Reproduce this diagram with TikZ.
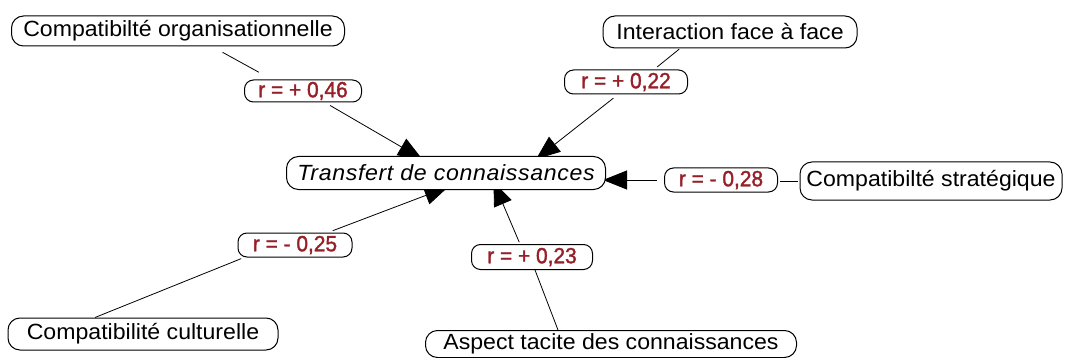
\documentclass[tikz,border=0pt]{standalone}
\usepackage{fontspec}
\setmainfont[FakeStretch=1.05]{Liberation Sans}
\newfontfamily\rfont[FakeStretch=0.95,FakeBold=1.5]{Liberation Sans}
\usepackage{tikz}
\usetikzlibrary{arrows.meta,backgrounds}
\definecolor{rdark}{RGB}{150,32,40}

\begin{document}
\begin{tikzpicture}[x=1pt,y=1pt,
    box/.style={draw, line width=1pt, fill=white, rounded corners=12pt, inner sep=0pt,
                font=\fontsize{22}{26}\selectfont},
    rbox/.style={draw, line width=1pt, fill=white, rounded corners=9pt, inner sep=0pt,
                font=\rfont\fontsize{22}{24}\selectfont, text=rdark},
    link/.style={line width=0.8pt},
    arr/.style={line width=0.8pt, -{Triangle[length=24pt,width=19pt]}}]

            \useasboundingbox (0,0) rectangle (1067,-358);

            % concepts
            \node[box, minimum width=333, minimum height=30] (orga) at (178,-31) {Compatibilté organisationnelle};
            \node[box, minimum width=254, minimum height=32] (face) at (730,-32) {Interaction face à face};
            \node[box, minimum width=319, minimum height=33] (transfert) at (446,-173)
                {\itshape\addfontfeature{LetterSpace=3}Transfert de connaissances};
            \node[box, minimum width=262, minimum height=38] (strat) at (931,-181) {Compatibilté stratégique};
            \node[box, minimum width=270, minimum height=32] (cult) at (143,-334) {Compatibilité culturelle};
            \node[box, minimum width=371, minimum height=27] (tacite) at (611,-344) {Aspect tacite des connaissances};

            % correlations
            \node[rbox, minimum width=117, minimum height=22] (rorga) at (303,-91) {r = + 0,46};
            \node[rbox, minimum width=123, minimum height=24] (rface) at (626,-82) {r = + 0,22};
            \node[rbox, minimum width=113, minimum height=24] (rstrat) at (721,-180) {r = - 0,28};
            \node[rbox, minimum width=114, minimum height=24] (rcult) at (295,-245) {r = - 0,25};
            \node[rbox, minimum width=121, minimum height=25] (rtacite) at (532,-257) {r = + 0,23};

            \begin{scope}[on background layer]
            \draw[link, shorten <=12pt, shorten >=15pt] ([xshift=34]orga.south) -- ([xshift=-31]rorga.north);
            \draw[arr, shorten <=6pt, shorten >=-6pt] ([xshift=22]rorga.south) -- ([xshift=-29]transfert.north);

            \draw[link, shorten <=1pt, shorten >=4pt] ([xshift=-50]face.south) -- ([xshift=28]rface.north);
            \draw[arr, shorten <=6pt, shorten >=-5pt] ([xshift=-8]rface.south) -- ([xshift=94]transfert.north);

            \draw[link, shorten <=2pt, shorten >=2pt] (strat.west) -- (strat.west -| rstrat.east);
            \draw[arr, shorten <=7pt, shorten >=-3pt] (rstrat.west) -- (rstrat.west -| transfert.east);

            \draw[link, shorten >=3pt] ([xshift=-48]cult.north) -- ([xshift=-51]rcult.south);
            \draw[arr, shorten <=5pt, shorten >=-9pt] ([xshift=33]rcult.north) -- ([xshift=-6]transfert.south);

            \draw[link] ([xshift=-53]tacite.north) -- ([xshift=3]rtacite.south);
            \draw[arr, shorten <=2pt, shorten >=-9pt] ([xshift=-12]rtacite.north) -- ([xshift=51]transfert.south);
            \end{scope}

        \end{tikzpicture}
\end{document}
